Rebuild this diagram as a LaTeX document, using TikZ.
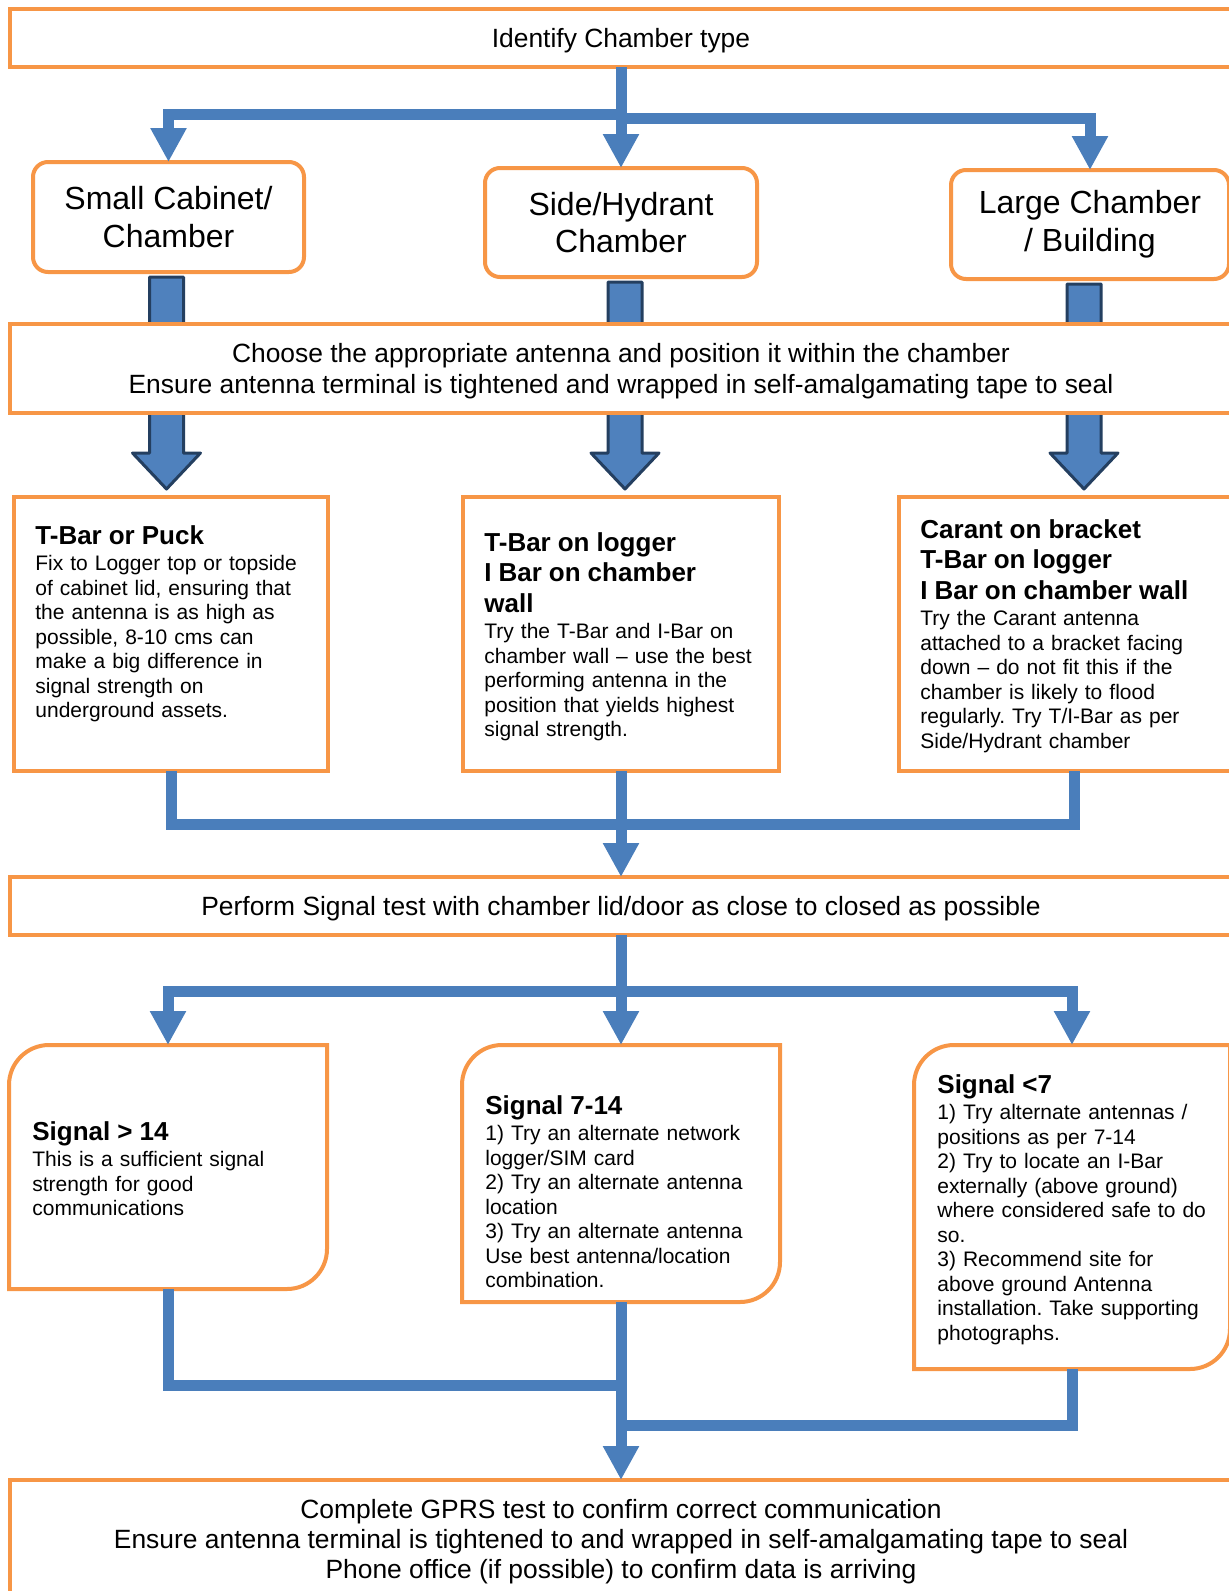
\documentclass[tikz,border=0pt]{standalone}
\usepackage{fontspec}
\setmainfont{Liberation Sans}
\usetikzlibrary{arrows.meta,calc,backgrounds}
\definecolor{orng}{HTML}{F79646}
\definecolor{blu}{HTML}{4A7EBB}
\definecolor{blufill}{HTML}{4F81BD}
\definecolor{navy}{HTML}{243F60}
\newcommand{\boxhead}[1]{{\fontsize{13}{15.25}\bfseries\selectfont #1\par}\vspace{1pt}}
\frenchspacing

\begin{document}
\begin{tikzpicture}[x=0.5pt,y=-0.5pt,
      wide/.style={draw=orng,line width=2pt,fill=white,anchor=north west,outer sep=0pt,minimum width=611pt,align=center,text depth=0pt,font=\fontsize{13.2}{15.2}\selectfont},
      kind/.style={draw=orng,line width=2pt,fill=white,rounded corners=7.5pt,anchor=north west,outer sep=0pt,align=center,font=\fontsize{16}{18.8}\selectfont},
      mount/.style={draw=orng,line width=2pt,fill=white,anchor=north west,outer sep=0pt,minimum height=137pt},
      sigbox/.style={anchor=north west,outer sep=0pt,inner sep=0pt},
      notes/.style={anchor=base west,inner sep=0pt,align=left,font=\fontsize{10.5}{12.25}\selectfont},
      link/.style={draw=blu,line width=5.5pt},
      flow/.style={link,-{Triangle[width=17pt,length=17pt]}},
      blk/.style={draw=navy,fill=blufill,line width=1.5pt,line join=round}]
    \useasboundingbox (0,0) rectangle (1229,1591);
    \node[wide,minimum height=29pt] (a) at (10,9) {Identify Chamber type};
    \node[kind,minimum width=135.5pt,minimum height=55pt] (c1) at (33,162) {Small Cabinet/\\Chamber};
    \node[kind,minimum width=136pt,minimum height=54.5pt] (c2) at (485,168) {Side/Hydrant\\Chamber};
    \node[kind,minimum width=139pt,minimum height=54.5pt] (c3) at (951,170) {Large Chamber\\/ Building};
    \node[wide,minimum height=44.5pt] (b) at (10,324) {Choose the appropriate antenna and position it within the chamber\\Ensure antenna terminal is tightened and wrapped in self-amalgamating tape to seal};
    \node[mount,minimum width=157pt] (p1) at (14,497) {};
    \node[mount,minimum width=158pt] (p2) at (463,497) {};
    \node[mount,minimum width=175pt] (p3) at (899,497) {};
    \node[notes,text width=145pt] (t1) at (35,544) {\boxhead{T-Bar or Puck}Fix to Logger top or topside\\of cabinet lid, ensuring that\\the antenna is as high as\\possible, 8-10 cms can\\make a big difference in\\signal strength on\\underground assets.};
    \node[notes,text width=145pt] (t2) at (484,551) {\boxhead{T-Bar on logger\\I Bar on chamber\\wall}Try the T-Bar and I-Bar on\\chamber wall – use the best\\performing antenna in the\\position that yields highest\\signal strength.};
    \node[notes,text width=150pt] (t3) at (920,538) {\boxhead{Carant on bracket\\T-Bar on logger\\I Bar on chamber wall}Try the Carant antenna\\attached to a bracket facing\\down – do not fit this if the\\chamber is likely to flood\\regularly. Try T/I-Bar as per\\Side/Hydrant chamber};
    \node[wide,minimum height=29pt] (q) at (10,877) {Perform Signal test with chamber lid/door as close to closed as possible};
    \node[sigbox,minimum width=159pt,minimum height=122pt] (s1) at (9,1045) {};
    \node[sigbox,minimum width=159pt,minimum height=128.5pt] (s2) at (462,1045) {};
    \node[sigbox,minimum width=158pt,minimum height=162pt] (s3) at (914,1045) {};
    \foreach \n in {s1,s2,s3}{
      \draw[draw=orng,line width=2pt,fill=white] (\n.south west) -- ([yshift=-20pt]\n.north west) arc[start angle=180,end angle=90,radius=20pt] -- (\n.north east) -- ([yshift=20pt]\n.south east) arc[start angle=0,end angle=-90,radius=20pt] -- cycle;}
    \node[notes,text width=145pt] (u1) at (32,1140) {\boxhead{Signal > 14}This is a sufficient signal\\strength for good\\communications};
    \node[notes,text width=145pt] (u2) at (485,1114) {\boxhead{Signal 7-14}1) Try an alternate network\\logger/SIM card\\2) Try an alternate antenna\\location\\3) Try an alternate antenna\\Use best antenna/location\\combination.};
    \node[notes,text width=145pt] (u3) at (937,1093) {\boxhead{Signal <7}1) Try alternate antennas /\\positions as per 7-14\\2) Try to locate an I-Bar\\externally (above ground)\\where considered safe to do\\so.\\3) Recommend site for\\above ground Antenna\\installation. Take supporting\\photographs.};
    \node[wide,minimum height=59pt] (r) at (10,1480) {Complete GPRS test to confirm correct communication\\Ensure antenna terminal is tightened to and wrapped in self-amalgamating tape to seal\\Phone office (if possible) to confirm data is arriving};
    \draw[flow] (a.south) -- ++(0,47) -| (c1.north);
    \draw[flow] (a.south) -- ++(0,51) -| (c3.north);
    \draw[flow] (a.south) -- (c2.north);
    \draw[link] (p1.south) |- ($(q.north)+(0,-53)$);
    \draw[link] (p3.south) |- ($(q.north)+(0,-53)$);
    \draw[flow] (p2.south) -- (q.north);
    \draw[flow] (q.south) -- ++(0,56) -| (s1.north);
    \draw[flow] (q.south) -- ++(0,56) -| (s3.north);
    \draw[flow] (q.south) -- (s2.north);
    \draw[link] (s1.south) |- ($(r.north)+(0,-95)$);
    \draw[link] (s3.south) |- ($(r.north)+(0,-55)$);
    \draw[flow] (s2.south) -- (r.north);
    \begin{scope}[on background layer]
      \foreach \a/\b/\dx in {c1/p1/-2,c2/p2/4,c3/p3/-6}{
        \coordinate (bt) at ($(\a.south)+(\dx,5)$);
        \coordinate (bh) at ($(bt |- \b.north)+(0,-8)$);
        \draw[blk] ($(bt)+(-17,0)$) -- ($(bt)+(17,0)$) -- ($(bh)+(17,-36)$) -- ($(bh)+(34,-36)$) -- (bh) -- ($(bh)+(-34,-36)$) -- ($(bh)+(-17,-36)$) -- cycle;}
    \end{scope}
  \end{tikzpicture}
\end{document}
